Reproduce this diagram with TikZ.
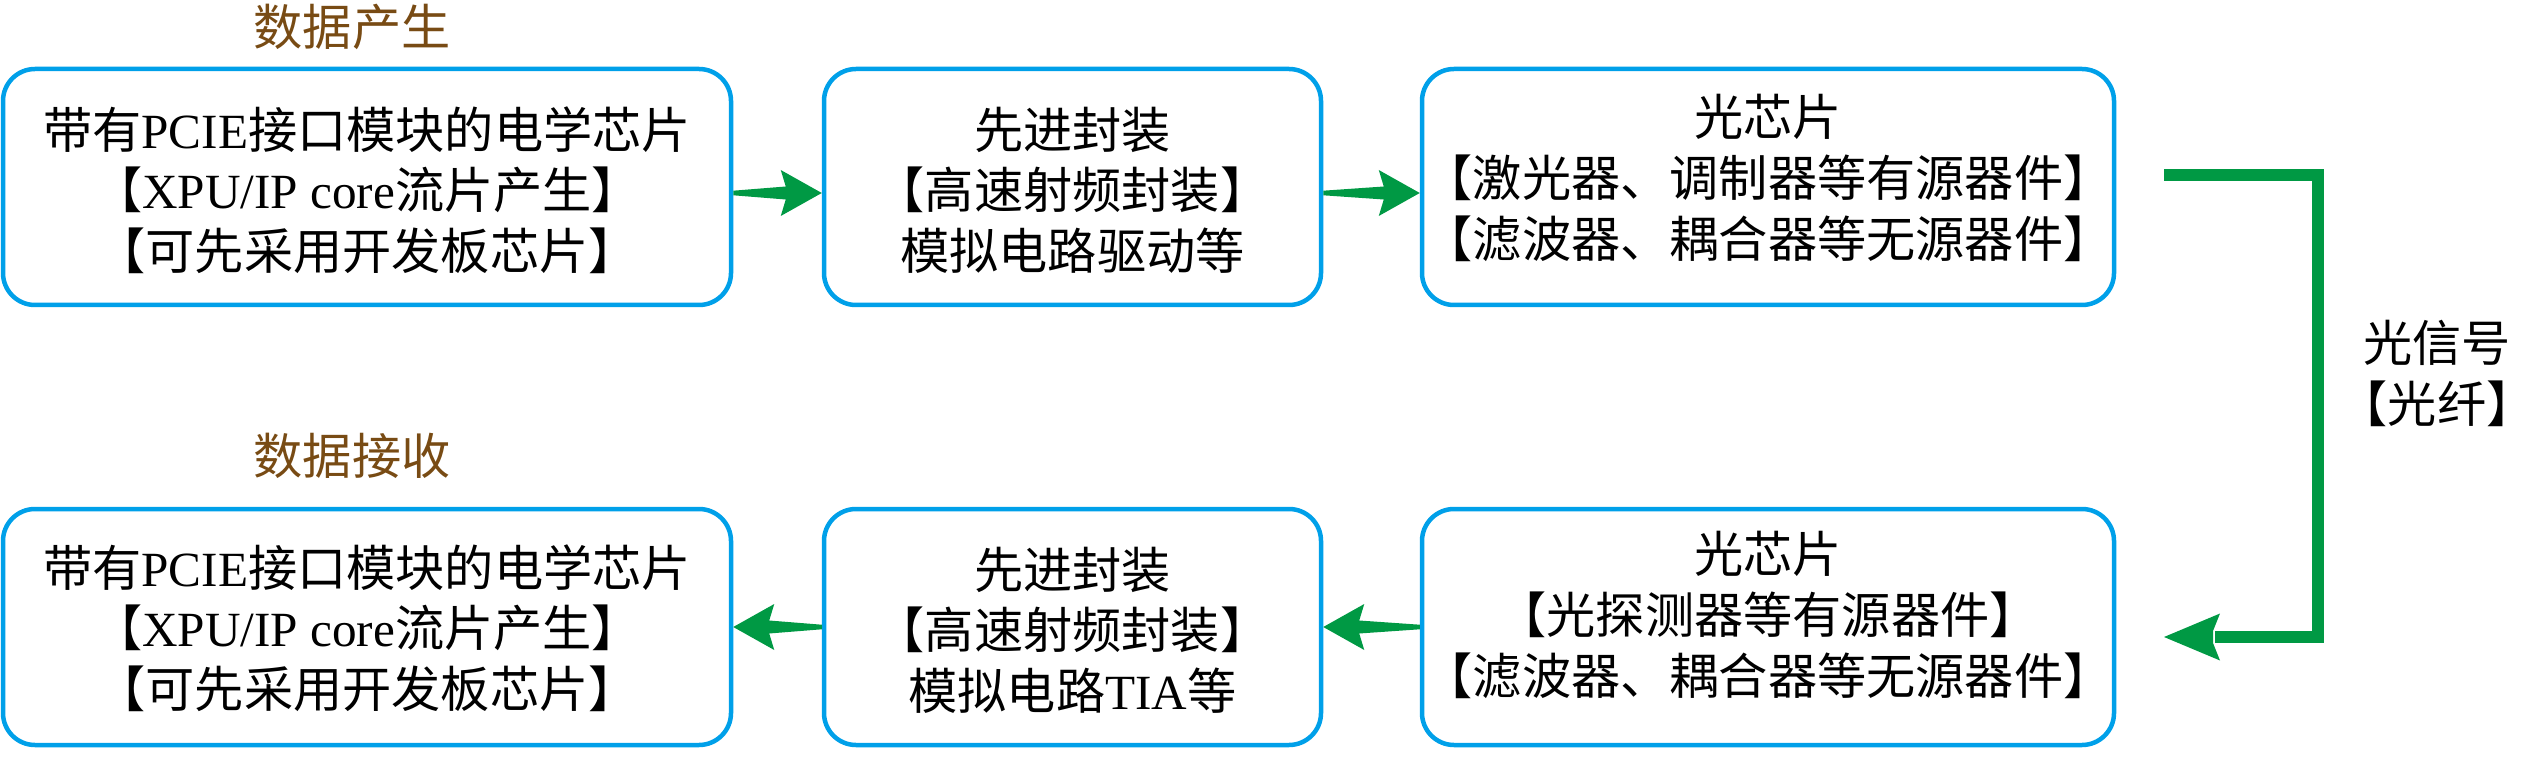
\documentclass[tikz,border=0pt]{standalone}
\usepackage{fontspec}
\setmainfont{Noto Sans CJK SC}
\newfontfamily\lat{Liberation Serif}
\usetikzlibrary{calc}
\definecolor{boxblue}{RGB}{0,160,233}
\definecolor{arrgreen}{RGB}{0,153,68}
\definecolor{titlebrown}{RGB}{120,75,20}
\newcommand{\fatarrow}[2]{%
  \fill[arrgreen] let \p1=(#1), \p2=(#2), \n1={ifthenelse(\x2>\x1,1,-1)} in
    (\x1,\y1+1.15pt) -- ({\x2-(\n1)*18pt},\y2+3.25pt) -- ({\x2-(\n1)*20.5pt},\y2+11.5pt) -- (\x2,\y2)
    -- ({\x2-(\n1)*20.5pt},\y2-11.5pt) -- ({\x2-(\n1)*18pt},\y2-3.25pt) -- (\x1,\y1-1.15pt) -- cycle;}
\tikzset{
  box/.style={draw=boxblue, line width=2.25pt, rounded corners=16pt, minimum height=118pt, inner sep=0pt},
  txt/.style={align=center, font=\fontsize{24.6pt}{30.3pt}\selectfont, inner sep=0pt},
  ttl/.style={txt, text=titlebrown},
}
\begin{document}
\begin{tikzpicture}[x=0.5pt,y=-0.5pt]
\useasboundingbox (0,0) rectangle (2536,780);
% boxes
\node[box, minimum width=364pt] (b1) at (367,187) {};
\node[box, minimum width=248.5pt] (b2) at (1072.5,187) {};
\node[box, minimum width=346pt] (b3) at (1768,187) {};
\node[box, minimum width=364pt] (b4) at (367,627) {};
\node[box, minimum width=248.5pt] (b5) at (1072.5,627) {};
\node[box, minimum width=346pt] (b6) at (1768,627) {};
% texts
\node[txt] (t1) at ($(b1.center)+(0,3)$) {带有{\lat PCIE}接口模块的电学芯片\\【{\lat XPU/IP core}流片产生】\\【可先采用开发板芯片】};
\node[txt] (t2) at ($(b2.center)+(0,3)$) {先进封装\\【高速射频封装】\\模拟电路驱动等};
\node[txt] (t3) at ($(b3.center)+(0,-9)$) {光芯片\\【激光器、调制器等有源器件】\\【滤波器、耦合器等无源器件】};
\node[txt] (t4) at ($(b4.center)+(0,1)$) {带有{\lat PCIE}接口模块的电学芯片\\【{\lat XPU/IP core}流片产生】\\【可先采用开发板芯片】};
\node[txt] (t5) at ($(b5.center)+(0,3)$) {先进封装\\【高速射频封装】\\模拟电路{\lat TIA}等};
\node[txt] (t6) at ($(b6.center)+(0,-12)$) {光芯片\\【光探测器等有源器件】\\【滤波器、耦合器等无源器件】};
% titles
\node[ttl] (h1) at (352,27) {数据产生};
\node[ttl] (h2) at (352,456) {数据接收};
% arrows
\fatarrow{$(b1.east)+(0,6)$}{$(b2.west)+(0,6)$}
\fatarrow{$(b2.east)+(0,6)$}{$(b3.west)+(0,6)$}
\fatarrow{b6.west}{b5.east}
\fatarrow{b5.west}{b4.east}
% optical link
\coordinate (fs) at (2164,175);
\coordinate (fc1) at (2318,175);
\coordinate (fc2) at (2318,637);
\coordinate (fe) at (2164,637);
\draw[arrgreen, line width=6pt] (fs) -- (fc1) -- (fc2) -- ($(fe)+(51,0)$);
\fill[arrgreen] (fe) -- ($(fe)+(56,-23.5)$) -- ($(fe)+(49,-6)$) -- ($(fe)+(49,6)$) -- ($(fe)+(56,23.5)$) -- cycle;
\node[txt] (sig) at (2437,373.5) {光信号\\【光纤】};
\end{tikzpicture}
\end{document}
